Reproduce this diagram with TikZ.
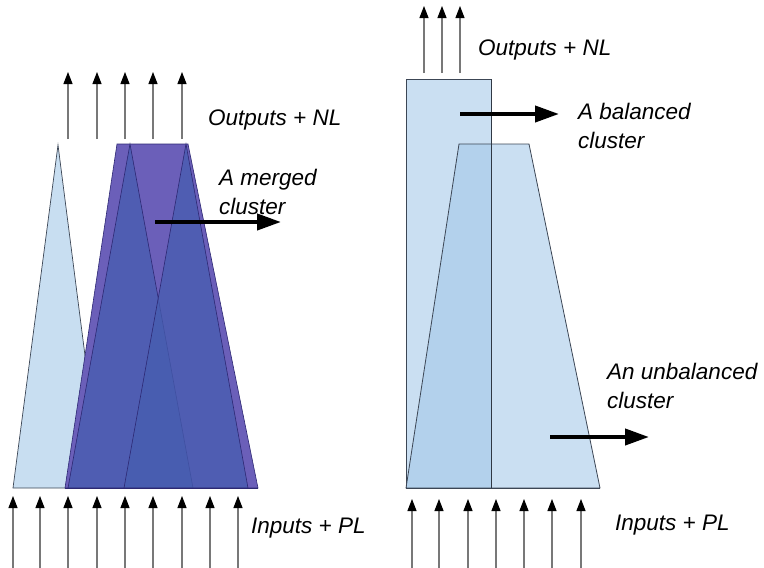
\documentclass[tikz,border=0pt]{standalone}
\usepackage{fontspec}
\setmainfont{Liberation Sans}
\usetikzlibrary{arrows.meta}
\definecolor{paleblue}{RGB}{200,222,241}
\definecolor{clustblue}{RGB}{159,197,231}
\definecolor{edgegray}{RGB}{60,70,85}
\definecolor{mergepurple}{RGB}{107,95,185}
\definecolor{mergeblue}{RGB}{70,93,176}
\definecolor{mergeedge}{RGB}{45,40,115}
\definecolor{shaftgray}{RGB}{120,120,120}
\begin{document}
\begin{tikzpicture}[x=1pt,y=-1pt,
  lbl/.style={font=\fontsize{22.5}{26}\selectfont\itshape, anchor=base west, inner sep=0pt},
  smallarrow/.style={draw=shaftgray, line width=1.1pt, -{Triangle[length=12pt,width=9pt,black]}},
  bigarrow/.style={line width=4pt, -{Triangle[length=24pt,width=16pt]}},
  paleshape/.style={fill=paleblue, draw=edgegray, line width=0.7pt},
  clustshape/.style={fill=clustblue, fill opacity=0.55, draw=edgegray, line width=0.8pt},
  mergeshape/.style={fill=mergepurple, draw=mergeedge, line width=0.6pt},
  mergetri/.style={fill=mergeblue, fill opacity=0.75, draw=mergeedge, line width=0.6pt}]
\useasboundingbox (0,0) rectangle (764,568);

% ---------------- left: merged cluster ----------------
\draw[paleshape] (13,488) -- (58,145) -- (102,488) -- cycle;
\draw[mergeshape] (65,488) -- (117,144) -- (188,144) -- (258,488) -- cycle;
\draw[mergetri] (68,488) -- (130,144) -- (193,488) -- cycle;
\draw[mergetri] (124,488) -- (186,144) -- (248,488) -- cycle;
\draw[mergeedge, line width=0.8pt] (65,488) -- (258,488);

\foreach \x [count=\i] in {68,97,125,153,182} {
  \coordinate (lo\i s) at (\x,139);
  \coordinate (lo\i e) at (\x,72);
  \draw[smallarrow] (lo\i s) -- (lo\i e);
}
\foreach \x [count=\i] in {13,40,68,97,125,153,182,210,238} {
  \coordinate (li\i s) at (\x,568);
  \coordinate (li\i e) at (\x,496);
  \draw[smallarrow] (li\i s) -- (li\i e);
}

\node[lbl] (outL) at (208,125) {Outputs + NL};
\node[lbl] (merge1) at (219,185) {A merged};
\node[lbl] (merge2) at (219,214) {cluster};
\node[lbl] (inL) at (251,533) {Inputs + PL};

\coordinate (mA) at (155,222);
\coordinate (mB) at (281,222);
\draw[bigarrow] (mA) -- (mB);

% ---------------- right: balanced / unbalanced ----------------
\draw[clustshape] (406,79) rectangle (491,488);
\draw[clustshape] (406,488) -- (459,144) -- (529,144) -- (600,488) -- cycle;
\draw[edgegray!80!black, line width=0.9pt] (491,79) -- (491,488);
\draw[edgegray, line width=0.9pt] (406,488) -- (600,488);

\foreach \x [count=\i] in {424,442,460} {
  \coordinate (ro\i s) at (\x,73);
  \coordinate (ro\i e) at (\x,6);
  \draw[smallarrow] (ro\i s) -- (ro\i e);
}
\foreach \x [count=\i] in {412,439,468,496,524,552,581} {
  \coordinate (ri\i s) at (\x,568);
  \coordinate (ri\i e) at (\x,499);
  \draw[smallarrow] (ri\i s) -- (ri\i e);
}

\node[lbl] (outR) at (478,55) {Outputs + NL};
\node[lbl] (bal1) at (578,119) {A balanced};
\node[lbl] (bal2) at (578,148) {cluster};
\node[lbl] (unb1) at (607,379) {An unbalanced};
\node[lbl] (unb2) at (607,408) {cluster};
\node[lbl] (inR) at (615,530) {Inputs + PL};

\coordinate (bA) at (460,114);
\coordinate (bB) at (559,114);
\draw[bigarrow] (bA) -- (bB);
\coordinate (uA) at (550,437);
\coordinate (uB) at (649,437);
\draw[bigarrow] (uA) -- (uB);
\end{tikzpicture}
\end{document}
